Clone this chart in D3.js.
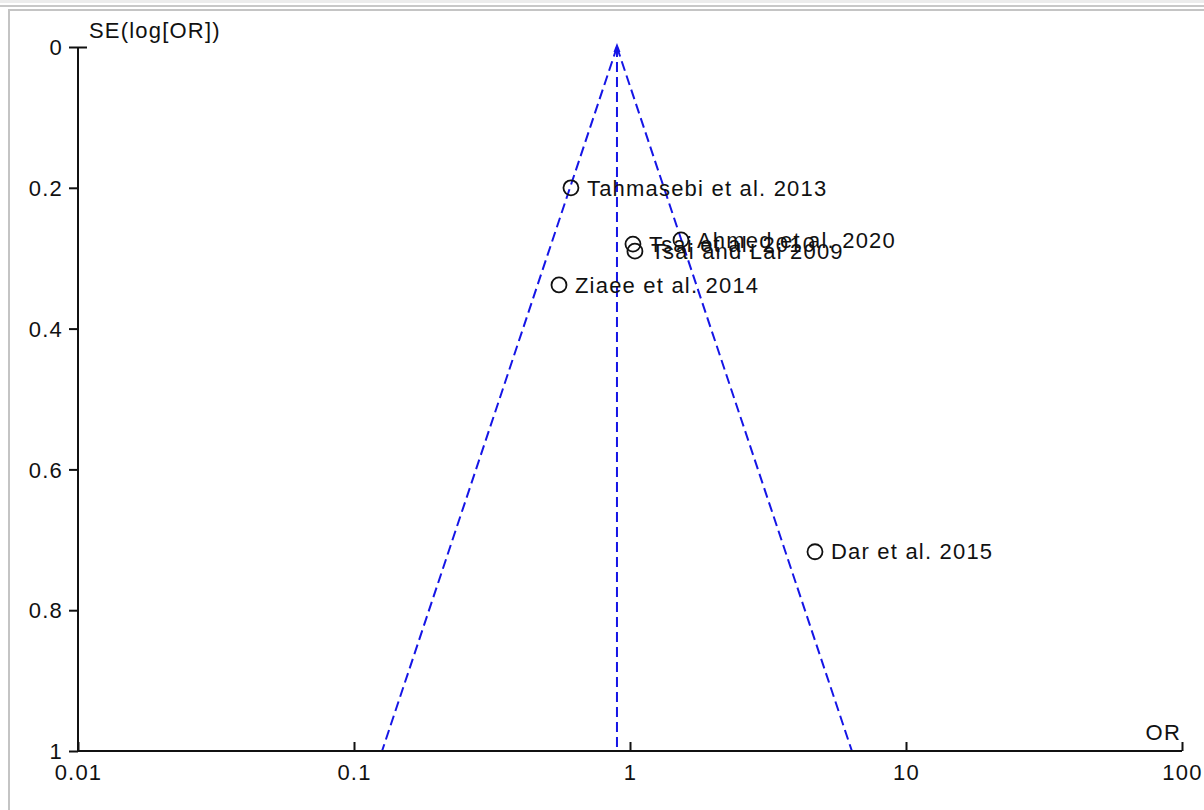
<!DOCTYPE html>
<html><head><meta charset="utf-8">
<script src="https://cdn.jsdelivr.net/npm/d3@7"></script>
<style>body{margin:0;background:#fff;} svg{display:block;}</style>
</head><body>
<svg id="c" width="1204" height="810"></svg>
<script>
const studies = ["Tahmasebi et al. 2013","Ahmed et al. 2020","Tsai et al. 2010","Tsai and Lai 2009","Ziaee et al. 2014","Dar et al. 2015"];
const oddsRatios = [0.611, 1.53, 1.025, 1.042, 0.553, 4.68];
const standardErrors = [0.200, 0.274, 0.280, 0.290, 0.338, 0.717];
const pooledOR = 0.897;
const xTicks = [0.01, 0.1, 1, 10, 100];
const xTickLabels = ["0.01","0.1","1","10","100"];
const yTicks = [0, 0.2, 0.4, 0.6, 0.8, 1];
const yTickLabels = ["0","0.2","0.4","0.6","0.8","1"];

const svg = d3.select("#c");
const font = "'Liberation Sans', Arial, sans-serif";
const ls = "1.2px";
// frame
svg.append("rect").attr("x",0).attr("y",0).attr("width",1204).attr("height",3).attr("fill","#ececec");
svg.append("rect").attr("x",0).attr("y",5).attr("width",1204).attr("height",2).attr("fill","#c8c8c8");
svg.append("rect").attr("x",8).attr("y",9).attr("width",1196).attr("height",2).attr("fill","#c4c4c4");
svg.append("rect").attr("x",8).attr("y",9).attr("width",2).attr("height",801).attr("fill","#c4c4c4");

const x = d3.scaleLog().domain([0.01,100]).range([78,1182]);
const y = d3.scaleLinear().domain([0,1]).range([47,751]);

const g = svg.append("g");
// funnel
const z = 1.96;
const seMax = 1;
const dash = "10,5";
const blue = "#1515e6";
const sw = 2;
g.append("line").attr("x1",x(pooledOR)).attr("y1",y(0)).attr("x2",x(pooledOR)).attr("y2",y(seMax))
  .attr("stroke",blue).attr("stroke-width",sw).attr("stroke-dasharray",dash);
g.append("line").attr("x1",x(pooledOR)).attr("y1",y(0)).attr("x2",x(pooledOR*Math.exp(-z*seMax))).attr("y2",y(seMax))
  .attr("stroke",blue).attr("stroke-width",sw).attr("stroke-dasharray",dash);
g.append("line").attr("x1",x(pooledOR)).attr("y1",y(0)).attr("x2",x(pooledOR*Math.exp(z*seMax))).attr("y2",y(seMax))
  .attr("stroke",blue).attr("stroke-width",sw).attr("stroke-dasharray",dash);
g.append("path").attr("d",`M${x(pooledOR)},${y(0)-4} l-3.5,9 l7,0 z`).attr("fill",blue);

// axes
const xAxis = d3.axisTop(x).tickValues(xTicks).tickSize(9).tickFormat(()=>"");
const xa = svg.append("g").attr("transform",`translate(0,${y(1)})`).call(xAxis);
xa.select(".domain").attr("stroke","#111").attr("stroke-width",2).attr("d",`M78,0H1182`);
xa.selectAll(".tick line").attr("stroke","#111").attr("stroke-width",2);
xa.selectAll(".tick").append("text").attr("y",21).attr("dy","0.35em").attr("text-anchor","middle")
  .attr("fill","#111").style("font",`22px ${font}`).style("letter-spacing",ls).text((d,i)=>xTickLabels[i]);

const yAxis = d3.axisLeft(y).tickValues(yTicks).tickSize(9).tickFormat(()=>"");
const ya = svg.append("g").attr("transform",`translate(78,0)`).call(yAxis);
ya.select(".domain").attr("stroke","#111").attr("stroke-width",2).attr("d",`M0,47V751`);
ya.selectAll(".tick line").attr("stroke","#111").attr("stroke-width",2)
  .attr("x2",()=>-9).attr("x1",(d)=> d===0 ? 9 : 0);
ya.selectAll(".tick").append("text").attr("x",-15).attr("dy","0.35em").attr("text-anchor","end")
  .attr("fill","#111").style("font",`22px ${font}`).style("letter-spacing",ls).text((d,i)=>yTickLabels[i]);

svg.append("text").attr("x",89).attr("y",38).attr("fill","#111").style("font",`22px ${font}`).style("letter-spacing",ls).text("SE(log[OR])");
svg.append("text").attr("x",1181).attr("y",740).attr("text-anchor","end").attr("fill","#111").style("font",`22px ${font}`).style("letter-spacing",ls).text("OR");

// points
const pts = svg.append("g");
studies.forEach((s,i)=>{
  const cx = x(oddsRatios[i]), cy = y(standardErrors[i]);
  pts.append("circle").attr("cx",cx).attr("cy",cy).attr("r",7.5).attr("fill","none").attr("stroke","#111").attr("stroke-width",1.8);
  pts.append("text").attr("x",cx+16).attr("y",cy).attr("dy","0.35em").attr("fill","#111")
    .style("font",`22px ${font}`).style("letter-spacing",ls).text(s);
});
</script>
</body></html>
